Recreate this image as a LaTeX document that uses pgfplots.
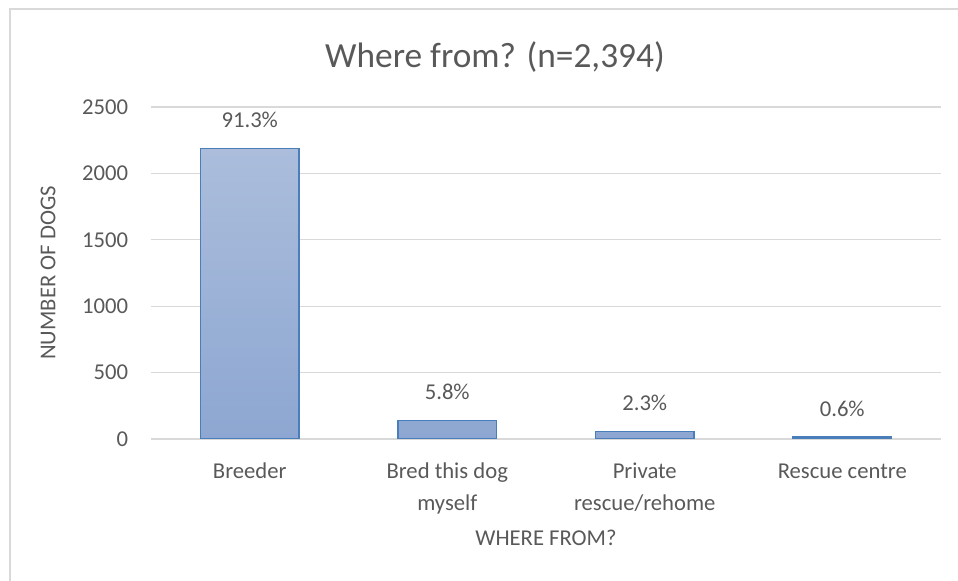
\documentclass[border=0pt]{standalone}
\usepackage{pgfplots}
\pgfplotsset{compat=1.18}
\usepackage{fontspec}
\setmainfont{Carlito}
\definecolor{txt}{HTML}{595959}
\definecolor{grd}{HTML}{D9D9D9}
\definecolor{bartop}{RGB}{171,189,219}
\definecolor{barbot}{RGB}{141,167,210}
\definecolor{barline}{RGB}{74,126,187}
\begin{document}
\begin{tikzpicture}
\path[use as bounding box] (0,0) rectangle (718.5pt,435.75pt);
\draw[grd, line width=1.2pt] (7.5pt,-5pt) -- (7.5pt,429pt) -- (730pt,429pt);
\begin{axis}[
  at={(113.25pt,106.5pt)}, anchor=south west,
  scale only axis, width=592.5pt, height=249pt,
  xmin=-0.5, xmax=3.5, ymin=0, ymax=2500,
  xtick={0,1,2,3},
  xticklabels={\vphantom{Bd}Breeder,{\vphantom{Bd}Bred this dog\\myself},{\vphantom{Bd}Private\\rescue/rehome},\vphantom{Bd}Rescue centre},
  ytick={0,500,1000,1500,2000,2500},
  ymajorgrids, major grid style={grd, line width=0.8pt},
  axis line style={draw=none}, tick style={draw=none},
  /pgf/number format/assume math mode=true,
  /pgf/number format/1000 sep={},
  font=\fontsize{17}{24}\selectfont\color{txt},
  yticklabel style={inner sep=0pt, anchor=east, xshift=-17pt},
  xticklabel style={inner sep=0pt, anchor=north, yshift=-13.5pt, align=center},
  xlabel={WHERE FROM?},
  xlabel style={at={(axis description cs:0.5,-0.298)}, anchor=center, inner sep=0pt},
  ylabel={NUMBER OF DOGS},
  ylabel style={at={(axis description cs:-0.1304,0.5)}, anchor=center, inner sep=0pt},
  title={Where from? (n=2,394)},
  title style={at={(axis description cs:0.4354,1.126)}, anchor=center, inner sep=0pt, font=\fontsize{26.5}{32}\selectfont\color{txt}},
  ybar, bar width=0.5,
  nodes near coords,
  point meta=explicit symbolic,
  nodes near coords style={anchor=center, inner sep=0pt, yshift=21.5pt, font=\fontsize{17}{20}\selectfont\color{txt}},
]
\addplot[draw=barline, line width=1.2pt, top color=bartop, bottom color=barbot] table[meta=lab] {
x y lab
0 2186 91.3\%
1 139 5.8\%
2 55 2.3\%
3 14 0.6\%
};
\end{axis}
\end{tikzpicture}
\end{document}
